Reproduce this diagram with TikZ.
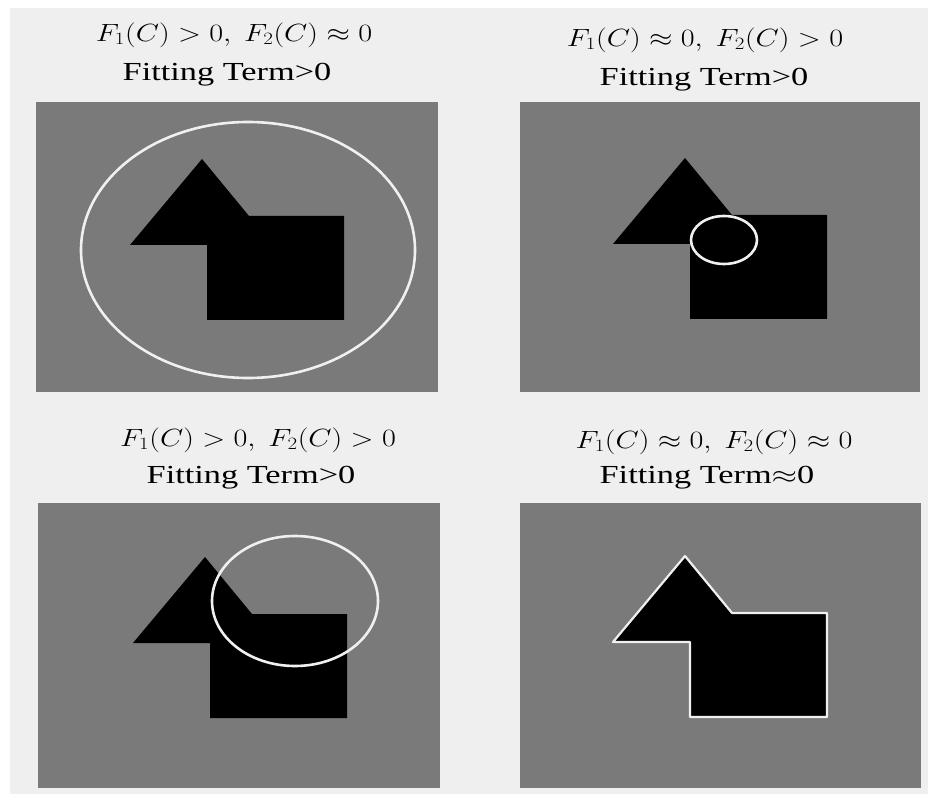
\documentclass[tikz,border=0pt]{standalone}
\usepackage{fontspec}
\setmainfont{Liberation Serif}
\definecolor{panelgray}{RGB}{122,122,122}
\definecolor{pagegray}{RGB}{239,239,239}
\definecolor{curvewhite}{RGB}{240,240,240}
\tikzset{
  panel/.style={fill=panelgray},
  blob/.style={fill=black},
  contour/.style={draw=curvewhite, line width=2.6pt},
  ttl/.style={inner sep=0pt, font=\fontsize{26}{30}\selectfont},
}
\newcommand\mathttl[1]{\scalebox{1.21}[1]{#1}}
\newcommand\textttl[1]{\scalebox{1.32}[1]{#1}}
\newcommand\blobpath{(-72,86) -- (0,0) -- (47,57) -- (142,57) -- (142,161) -- (5,161) -- (5,86) -- cycle}
\begin{document}
\begin{tikzpicture}[x=1pt,y=-1pt]
\useasboundingbox (0,0) rectangle (935,794);
\fill[white] (0,0) rectangle (935,794);
\fill[pagegray] (10,8) rectangle (928,794);

% panels
\fill[panel] (36,102) rectangle (438,392);
\fill[panel] (520,102) rectangle (920,392);
\fill[panel] (38,503) rectangle (440,788);
\fill[panel] (520,503) rectangle (921,788);

% shapes
\fill[blob, shift={(202,159)}] \blobpath;
\fill[blob, shift={(685,158)}] \blobpath;
\fill[blob, shift={(205,557)}] \blobpath;
\fill[blob, shift={(685,556)}] \blobpath;

% contours
\draw[contour] (248,250) ellipse [x radius=167, y radius=128];
\draw[contour] (724,240) ellipse [x radius=33, y radius=24];
\draw[contour] (295,601) ellipse [x radius=83, y radius=65];
\draw[contour, line width=2.2pt, line join=round, shift={(685,556)}] \blobpath;

% titles
\node[ttl] (t1a) at (234,35) {\mathttl{$F_1(C) > 0,\ F_2(C) \approx 0$}};
\node[ttl] (t1b) at (227,75) {\textttl{Fitting Term>0}};
\node[ttl] (t2a) at (705,40) {\mathttl{$F_1(C) \approx 0,\ F_2(C) > 0$}};
\node[ttl] (t2b) at (704,80) {\textttl{Fitting Term>0}};
\node[ttl] (t3a) at (258,440) {\mathttl{$F_1(C) > 0,\ F_2(C) > 0$}};
\node[ttl] (t3b) at (251,478) {\textttl{Fitting Term>0}};
\node[ttl] (t4a) at (714,442) {\mathttl{$F_1(C) \approx 0,\ F_2(C) \approx 0$}};
\node[ttl] (t4b) at (707,478) {\textttl{Fitting Term$\approx$0}};
\end{tikzpicture}
\end{document}
